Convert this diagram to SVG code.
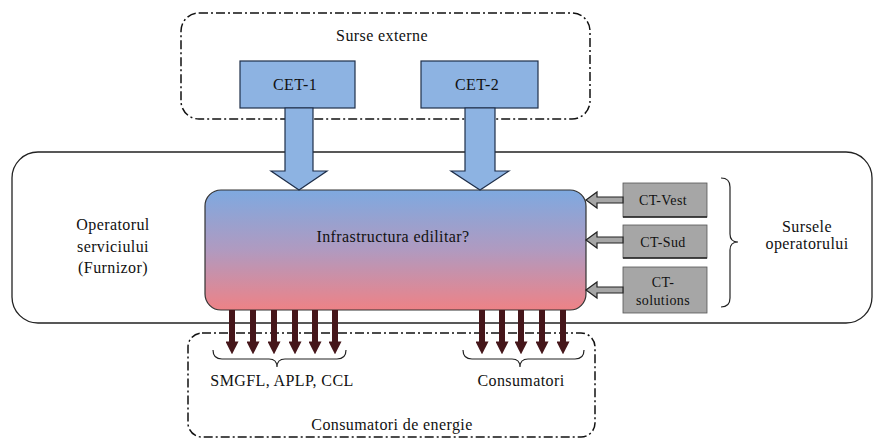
<svg xmlns="http://www.w3.org/2000/svg" width="877" height="441" viewBox="0 0 877 441">
<defs>
<style>
text{font-family:"Liberation Serif","Times New Roman",serif;font-size:16px;letter-spacing:0.4px;fill:#111;text-anchor:middle}
.sm{font-size:14px}
.dd{fill:none;stroke:#111;stroke-width:1.5;stroke-dasharray:9 3 2 3}
.cet{fill:#8db3e2;stroke:#1f2f4a;stroke-width:1.2}
.ct{fill:#a6a6a6;stroke:#555;stroke-width:0.8}
.garr{fill:#a6a6a6;stroke:#222;stroke-width:1.2}
.brace{fill:none;stroke:#222;stroke-width:1.2}
</style>
<linearGradient id="g" x1="0" y1="0" x2="0" y2="1">
<stop offset="0" stop-color="#7ea9e0"/>
<stop offset="0.5" stop-color="#b09ac0"/>
<stop offset="1" stop-color="#ee8286"/>
</linearGradient>
<marker id="ah" viewBox="0 0 10 10" refX="2" refY="5" markerWidth="13" markerHeight="13" markerUnits="userSpaceOnUse" orient="auto">
<path d="M0,0 L10,5 L0,10 Z" fill="#45161a"/>
</marker>
</defs>

<g id="surse-externe">
<rect class="dd" x="181" y="13" width="409" height="106" rx="18"/>
<text x="382" y="41">Surse externe</text>
</g>

<g id="operator">
<rect x="12" y="152" width="860" height="171" rx="26" fill="none" stroke="#222" stroke-width="1.3"/>
<text x="113" y="230">Operatorul</text>
<text x="113" y="252">serviciului</text>
<text x="113" y="273">(Furnizor)</text>
</g>

<g id="consumatori">
<rect class="dd" x="188" y="333" width="407" height="104" rx="14"/>
<text x="392" y="430">Consumatori de energie</text>
</g>

<g id="infrastructura">
<rect x="205" y="190" width="381" height="120" rx="16" fill="url(#g)" stroke="#333" stroke-width="1.2"/>
<text x="393" y="242">Infrastructura edilitar?</text>
</g>

<g id="cet1">
<rect class="cet" x="240" y="61" width="115" height="47"/>
<text x="295" y="90">CET-1</text>
</g>
<g id="cet2">
<rect class="cet" x="421" y="61" width="117" height="47"/>
<text x="477" y="90">CET-2</text>
</g>

<g id="ct-vest">
<rect class="ct" x="623" y="183" width="84" height="34"/>
<line x1="623" y1="217" x2="707" y2="217" stroke="#222" stroke-width="1.5"/>
<text class="sm" x="663" y="205">CT-Vest</text>
</g>
<g id="ct-sud">
<rect class="ct" x="623" y="225" width="84" height="33"/>
<line x1="623" y1="258" x2="707" y2="258" stroke="#222" stroke-width="1.5"/>
<text class="sm" x="663" y="247">CT-Sud</text>
</g>
<g id="ct-sol">
<rect class="ct" x="623" y="267" width="84" height="46"/>
<text class="sm" x="663" y="287">CT-</text>
<text class="sm" x="663" y="305">solutions</text>
</g>

<g id="sursele-operatorului">
<path class="brace" d="M721,178 q9,0 9,9 v47 q0,8 8,8 q-8,0 -8,8 v48 q0,9 -9,9"/>
<text x="807" y="232">Sursele</text>
<text x="807" y="249">operatorului</text>
</g>

<g id="label-smgfl">
<path class="brace" d="M213,350 q0,9 9,9 h47 q8,0 8,8 q0,-8 8,-8 h52 q9,0 9,-9"/>
<text x="282" y="386">SMGFL, APLP, CCL</text>
</g>
<g id="label-cons">
<path class="brace" d="M463,350 q0,9 9,9 h40 q8,0 8,8 q0,-8 8,-8 h47 q9,0 9,-9"/>
<text x="521" y="386">Consumatori</text>
</g>

<g id="connectors">
<path class="cet" d="M285,108 V171 H271 L299,190 L327,171 H313 V108 Z"/>
<path class="cet" d="M465,108 V171 H451 L480,190 L509,171 H495 V108 Z"/>
<path class="garr" d="M623,197 H597 V192 L586,200 L597,208 V203 H623 Z"/>
<path class="garr" d="M623,237 H597 V232 L586,240 L597,248 V243 H623 Z"/>
<path class="garr" d="M623,287 H597 V282 L586,290 L597,298 V293 H623 Z"/>
<g stroke="#45161a" stroke-width="6" marker-end="url(#ah)">
<line x1="232" y1="310" x2="232" y2="344"/>
<line x1="253" y1="310" x2="253" y2="344"/>
<line x1="274" y1="310" x2="274" y2="344"/>
<line x1="295" y1="310" x2="295" y2="344"/>
<line x1="315" y1="310" x2="315" y2="344"/>
<line x1="335" y1="310" x2="335" y2="344"/>
<line x1="482" y1="310" x2="482" y2="344"/>
<line x1="502" y1="310" x2="502" y2="344"/>
<line x1="521" y1="310" x2="521" y2="344"/>
<line x1="542" y1="310" x2="542" y2="344"/>
<line x1="563" y1="310" x2="563" y2="344"/>
</g>
</g>
</svg>
